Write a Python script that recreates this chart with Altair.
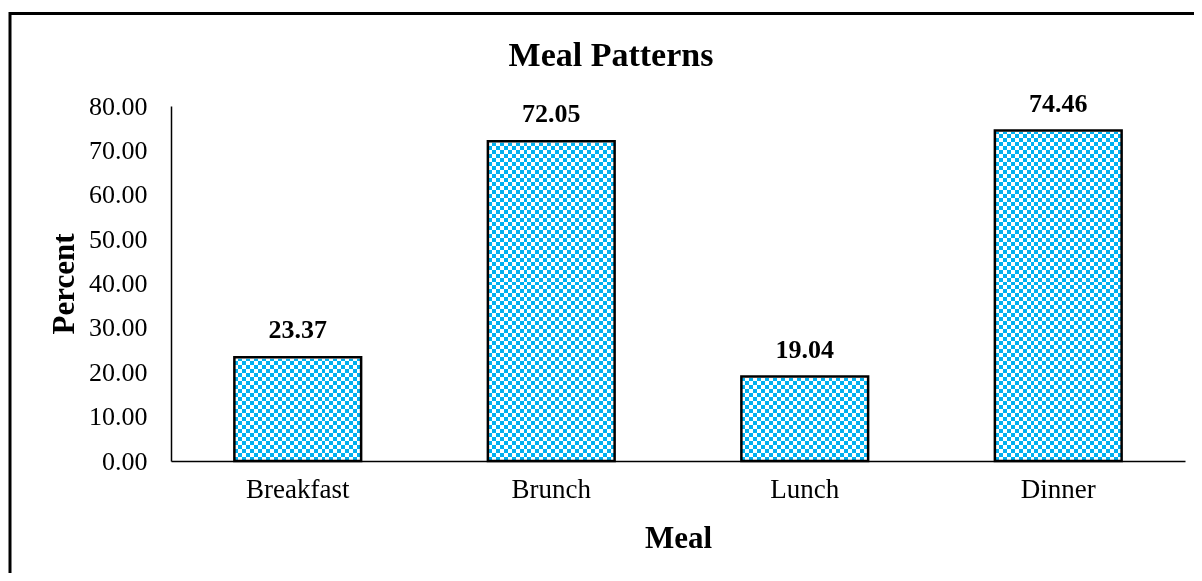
import altair as alt
import pandas as pd

# ---- data ----
meals = ["Breakfast", "Brunch", "Lunch", "Dinner"]
percent = [23.37, 72.05, 19.04, 74.46]
y_ticks = [0, 10, 20, 30, 40, 50, 60, 70, 80]
y_max = 80

df = pd.DataFrame({"Meal": meals, "Percent": percent})
df["Top"] = y_max

BLUE = "#00B0F0"
FONT = "Liberation Serif"


def stripes(n, along_x):
    stops = []
    for i in range(n):
        c = "white" if i % 2 == 0 else "black"
        stops.append(alt.GradientStop(offset=i / n, color=c))
        stops.append(alt.GradientStop(offset=(i + 1) / n, color=c))
    if along_x:
        return alt.LinearGradient(gradient="linear", stops=stops, x1=0, x2=1, y1=0, y2=0)
    return alt.LinearGradient(gradient="linear", stops=stops, x1=0, x2=0, y1=0, y2=1)


x_enc = alt.X(
    "Meal:N",
    sort=meals,
    scale=alt.Scale(paddingInner=0.5, paddingOuter=0.25),
    axis=alt.Axis(
        title="Meal",
        titleFont=FONT, titleFontSize=31, titleFontWeight="bold", titleColor="black",
        titleX=507, titleY=86, titleBaseline="alphabetic", titleAlign="center",
        labelFont=FONT, labelFontSize=27, labelColor="black", labelAngle=0,
        labelPadding=15, ticks=False, domainColor="black", domainWidth=1.5, grid=False,
    ),
)

y_scale = alt.Scale(domain=[0, y_max], nice=False, zero=True)
y_enc = alt.Y(
    "Percent:Q",
    scale=y_scale,
    axis=alt.Axis(
        title="Percent", values=y_ticks, format=".2f",
        titleFont=FONT, titleFontSize=31, titleFontWeight="bold", titleColor="black",
        titleAngle=-90, titleX=-98, titleY=177.5, titleBaseline="alphabetic", titleAlign="center",
        labelFont=FONT, labelFontSize=26, labelColor="black", labelPadding=24,
        ticks=False, domainColor="black", domainWidth=1.5, grid=False,
    ),
)

base = alt.Chart(df).encode(x=x_enc)

# checkerboard: vertical stripes XOR horizontal stripes, then tinted blue
l1 = base.mark_bar(fill=stripes(32, True), strokeWidth=0).encode(y=y_enc)
l2 = base.mark_bar(fill=stripes(89, False), strokeWidth=0, blend="difference").encode(
    y=alt.Y("Top:Q", scale=y_scale))
l3 = base.mark_bar(fill="white", stroke="white", strokeWidth=3).encode(
    y=alt.Y("Percent:Q", scale=y_scale), y2="Top:Q")
l4 = base.mark_bar(fill=BLUE, strokeWidth=0, blend="screen").encode(
    y=alt.Y("Percent:Q", scale=y_scale))
l5 = base.mark_bar(fillOpacity=0, stroke="black", strokeWidth=2.5).encode(
    y=alt.Y("Percent:Q", scale=y_scale))
labels = base.mark_text(
    dy=-19, baseline="alphabetic", font=FONT, fontSize=26, fontWeight="bold", color="black"
).encode(y=alt.Y("Percent:Q", scale=y_scale), text=alt.Text("Percent:Q", format=".2f"))

title = alt.Chart(alt.Data(values=[{"t": "Meal Patterns"}])).mark_text(
    font=FONT, fontSize=34, fontWeight="bold", color="black", align="center", baseline="alphabetic"
).encode(x=alt.value(440), y=alt.value(-40), text="t:N")

border = alt.Chart(alt.Data(values=[{}])).mark_rect(
    fillOpacity=0, stroke="black", strokeWidth=3
).encode(x=alt.value(-161), x2=alt.value(1100), y=alt.value(-92.5), y2=alt.value(600))

chart = alt.layer(l1, l2, l3, l4, l5, labels, title, border).properties(
    width=1014,
    height=355,
    autosize="none",
    padding={"left": 163, "top": 98, "right": 9, "bottom": 112},
    background="white",
).configure_view(stroke=None)

chart.save("out.html", embed_options={"renderer": "svg", "actions": False})
